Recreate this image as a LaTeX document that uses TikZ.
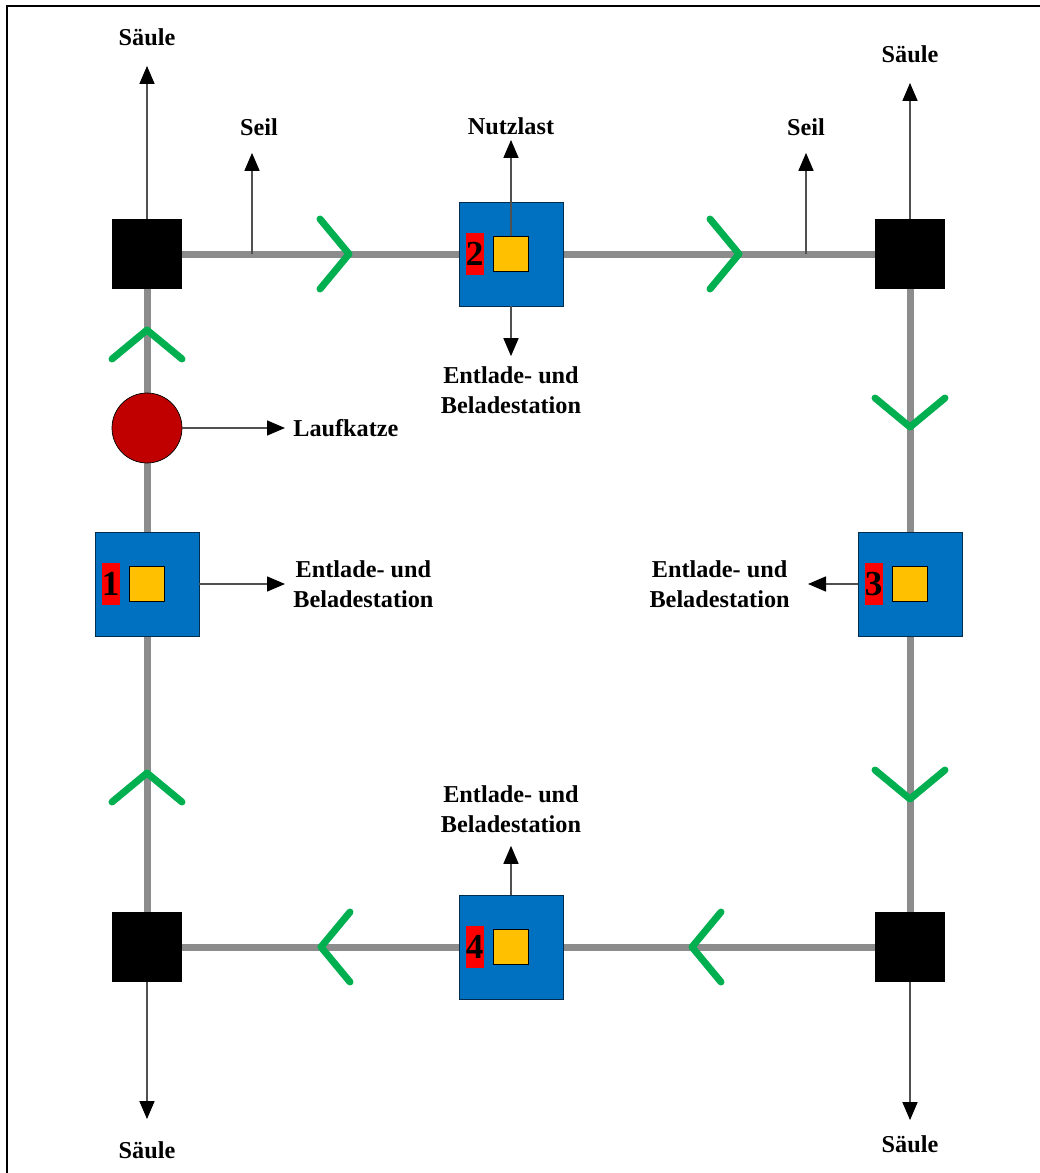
\documentclass[tikz,border=0pt]{standalone}
\usepackage{fontspec}
\setmainfont{Liberation Serif}
\usetikzlibrary{positioning,arrows.meta,backgrounds}

\definecolor{railgray}{HTML}{8C8C8C}
\definecolor{stationblue}{HTML}{0070C0}
\definecolor{loadyellow}{HTML}{FFC000}
\definecolor{trolleyred}{HTML}{C00000}
\definecolor{dirgreen}{HTML}{00B050}
\definecolor{ptrgray}{HTML}{505050}

\tikzset{
  pillar/.style={fill=black, minimum size=1.4cm, inner sep=0},
  station/.style={fill=stationblue, draw=black!60!stationblue, line width=0.5pt, minimum size=2.08cm, inner sep=0},
  load/.style={fill=loadyellow, draw=black, line width=0.5pt, minimum size=0.7cm, inner sep=0},
  tag/.style={fill=red, minimum width=0.36cm, minimum height=0.84cm, inner sep=0, font=\bfseries\fontsize{20}{20}\selectfont},
  trolley/.style={circle, fill=trolleyred, draw=black, line width=0.4pt, minimum size=1.4cm, inner sep=0},
  lbl/.style={inner sep=0, align=center, font=\bfseries\fontsize{13.8}{17}\selectfont},
  rail/.style={railgray, line width=0.14cm, line cap=round},
  ptr/.style={ptrgray, line width=0.03cm, -{Triangle[length=0.36cm,width=0.3cm,color=black]}},
  chev/.pic={\draw[dirgreen, line width=0.14cm, line cap=round, line join=round] (-29,-35) -- (0,0) -- (-29,35);}
}

\begin{document}
\begin{tikzpicture}[x=0.02cm, y=-0.02cm]
\useasboundingbox (0,0) rectangle (1040,1173);
\draw[line width=0.04cm] (7,1180) -- (7,6) -- (1045,6);

% Pillars at the corners
\node[pillar] (pTL) at (147,254) {};
\node[pillar] (pTR) at (910,254) {};
\node[pillar] (pBL) at (147,947) {};
\node[pillar] (pBR) at (910,947) {};

% Stations
\node[station] (st1) at (147,584) {};
\node[load] (ld1) at (st1) {};
\node[tag, left=0.18cm of ld1] (tg1) {1};

\node[station] (st2) at (511,254) {};
\node[load] (ld2) at (st2) {};
\node[tag, left=0.18cm of ld2] (tg2) {2};

\node[station] (st3) at (910,584) {};
\node[load] (ld3) at (st3) {};
\node[tag, left=0.18cm of ld3] (tg3) {3};

\node[station] (st4) at (511,947) {};
\node[load] (ld4) at (st4) {};
\node[tag, left=0.18cm of ld4] (tg4) {4};

% Trolley
\node[trolley] (kat) at (147,428) {};

% Rails
\begin{scope}[on background layer]
\draw[rail] (pTL.east) -- (pTR.west);
\draw[rail] (pTR.south) -- (pBR.north);
\draw[rail] (pBR.west) -- (pBL.east);
\draw[rail] (pBL.north) -- (pTL.south);
\end{scope}

% Direction of travel
\pic at (349,254) {chev};
\pic at (739,254) {chev};
\pic[rotate=-90] at (910,427) {chev};
\pic[rotate=-90] at (910,799) {chev};
\pic[rotate=180] at (321,947) {chev};
\pic[rotate=180] at (692,947) {chev};
\pic[rotate=90] at (147,330) {chev};
\pic[rotate=90] at (147,773) {chev};

% Columns
\node[lbl] (sTL) at (147,37) {Säule};
\node[lbl] (sTR) at (910,54) {Säule};
\node[lbl] (sBL) at (147,1150) {Säule};
\node[lbl] (sBR) at (910,1144) {Säule};
\draw[ptr, shorten >=0.4cm] (pTL.north) -- (sTL.south);
\draw[ptr, shorten >=0.4cm] (pTR.north) -- (sTR.south);
\draw[ptr, shorten >=0.44cm] (pBL.south) -- (sBL.north);
\draw[ptr, shorten >=0.3cm] (pBR.south) -- (sBR.north);

% Ropes
\coordinate (ropeL) at (252,254);
\coordinate (ropeR) at (806,254);
\node[lbl] (seilL) at (259,127) {Seil};
\node[lbl] (seilR) at (806,127) {Seil};
\draw[ptr, shorten >=0.34cm] (ropeL) -- (ropeL |- seilL.south);
\draw[ptr, shorten >=0.34cm] (ropeR) -- (seilR.south);

% Payload
\node[lbl] (nutz) at (511,126) {Nutzlast};
\draw[ptr, shorten >=0.1cm] (ld2.north) -- (nutz.south);

% Trolley label
\node[lbl, anchor=west] (lk) at (293,428) {Laufkatze};
\draw[ptr, shorten >=0.16cm] (kat.east) -- (lk.west);

% Station labels
\node[lbl, anchor=west] (el1) at (293,584) {Entlade- und\\Beladestation};
\node[lbl] (el2) at (511,390) {Entlade- und\\Beladestation};
\node[lbl, anchor=east] (el3) at (790,584) {Entlade- und\\Beladestation};
\node[lbl] (el4) at (511,809) {Entlade- und\\Beladestation};
\draw[ptr, shorten >=0.16cm] (st1.east) -- (el1.west);
\draw[ptr, shorten >=0.2cm] (st2.south) -- (el2.north);
\draw[ptr, shorten >=0.36cm] (st3.west) -- (el3.east);
\draw[ptr, shorten >=0.26cm] (st4.north) -- (el4.south);

\end{tikzpicture}
\end{document}
